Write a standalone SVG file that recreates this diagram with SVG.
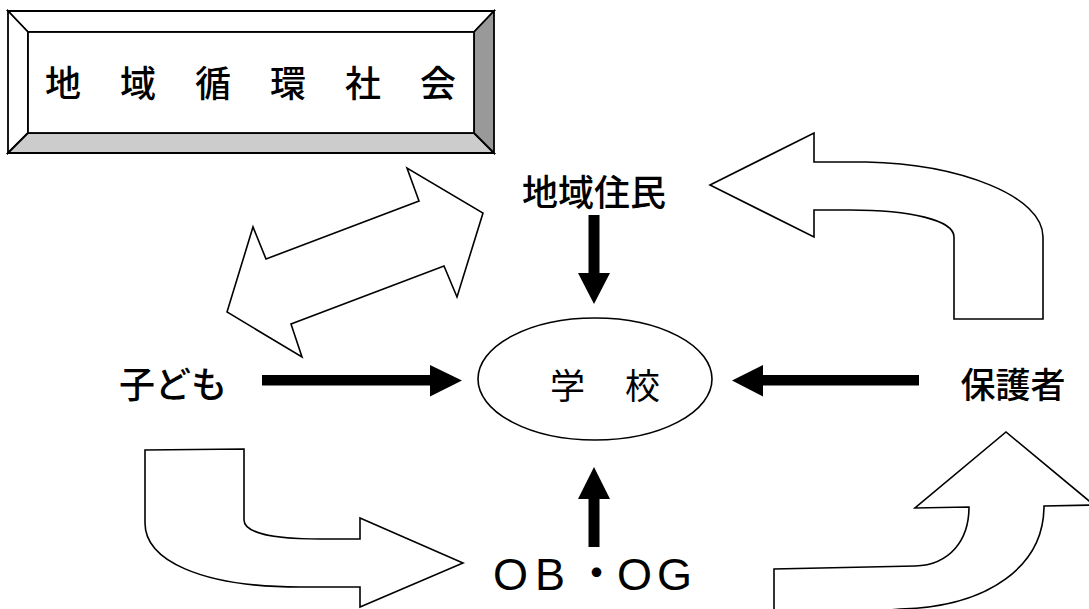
<svg xmlns="http://www.w3.org/2000/svg" width="1089" height="609" viewBox="0 0 1089 609">
<style>
.t{font-family:"Noto Sans CJK JP","Noto Sans",sans-serif;fill:#000}
.lat{font-family:"Liberation Sans","Noto Sans CJK JP",sans-serif;fill:#000}
.ol{fill:#fff;stroke:#000;stroke-width:1.6;stroke-linejoin:miter}
.blk{fill:#000;stroke:none}
.bv{stroke:#000;stroke-width:1.8;stroke-linejoin:miter}
</style>
<rect width="1089" height="609" fill="#fff"/>
<g id="title">
  <polygon class="bv" fill="#fff" points="8,11 494,11 474,32 28,32"/>
  <polygon class="bv" fill="#fff" points="8,11 28,32 28,133 8,153"/>
  <polygon class="bv" fill="#cccccc" points="8,153 28,133 474,133 494,153"/>
  <polygon class="bv" fill="#999999" points="494,11 494,153 474,133 474,32"/>
  <rect class="bv" fill="#fff" x="28" y="32" width="446" height="101"/>
  <text class="t" x="45" y="97" font-size="36" font-weight="500" textLength="411" lengthAdjust="spacing">地 域 循 環 社 会</text>
</g>
<g id="connectors">
  <polygon class="ol" points="227,312 253,227 266,259 419,201 407,168 483,213 457,297 444,266 291,324 302,357"/>
  <path class="ol" d="M710,185 L814,133 L814,162 L866,162 C960,164 1043,196 1043,237 L1043,319 L954,319 L954,237 C954,220 910,210 850,210 L814,210 L814,237 Z"/>
  <path class="ol" d="M145,450 L244,449 L244,520 C244,532 270,539 320,539 L360,539 L360,518 L463,563 L360,607 L360,587 L300,587 C200,587 145,560 145,523 Z"/>
  <path class="ol" d="M774,614 L774,569 L915,566 C950,565 969,540 969,507 L915,508 L1006,432 L1094,505 L1044,506 C1044,565 990,607 900,609 L850,614 Z"/>
  <polygon class="blk" points="588.5,215 599.5,215 599.5,273 610,273 594,304 578,273 588.5,273"/>
  <polygon class="blk" points="262,375 430,375 430,365 462,380.5 430,396.5 430,385.5 262,385.5"/>
  <polygon class="blk" points="919,375 763,375 763,365 732,380.5 763,396.5 763,385.5 919,385.5"/>
  <polygon class="blk" points="588.5,547 599.5,547 599.5,499 610,499 594,467 578,499 588.5,499"/>
</g>
<g id="school">
  <ellipse cx="595" cy="379" rx="117" ry="61" fill="#fff" stroke="#000" stroke-width="1.6"/>
  <text class="t" x="550" y="399" font-size="35" textLength="110" lengthAdjust="spacing">学 校</text>
</g>
<g id="residents"><text class="t" x="594" y="206" font-size="36" font-weight="500" text-anchor="middle">地域住民</text></g>
<g id="children"><text class="t" x="173" y="398" font-size="36" font-weight="500" text-anchor="middle">子ども</text></g>
<g id="parents"><text class="t" x="1013" y="398" font-size="35" font-weight="500" text-anchor="middle">保護者</text></g>
<g id="obog"><text class="lat" x="493 535 574 617 657" y="590" font-size="45">OB・OG</text></g>
</svg>
